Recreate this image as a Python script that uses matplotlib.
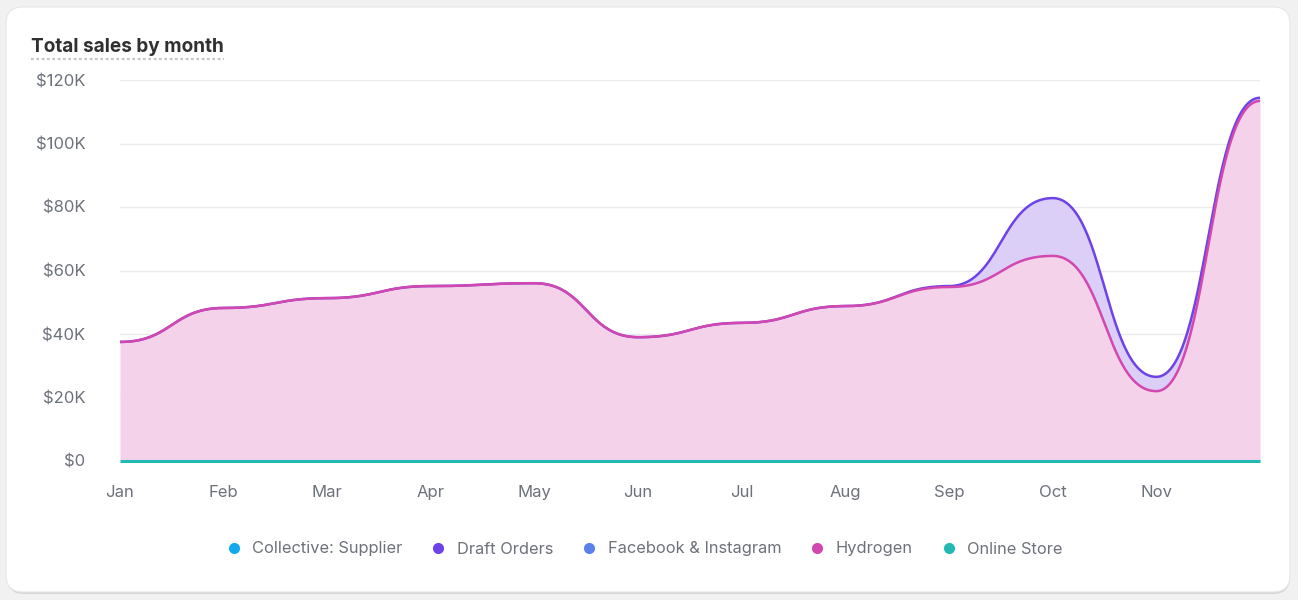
import numpy as np
import matplotlib
matplotlib.use("Agg")
import matplotlib.pyplot as plt
from matplotlib.patches import FancyBboxPatch
from matplotlib.lines import Line2D

plt.rcParams["font.family"] = ["Inter", "DejaVu Sans"]

months = ["Jan", "Feb", "Mar", "Apr", "May", "Jun", "Jul", "Aug", "Sep", "Oct", "Nov", ""]
collective = [0, 0, 0, 0, 0, 0, 0, 0, 0, 0, 0, 0]
facebook = [0, 0, 0, 0, 0, 0, 0, 0, 0, 0, 0, 0]
online_store = [0, 0, 0, 0, 0, 0, 0, 0, 0, 0, 0, 0]
hydrogen = [37.5, 48.2, 51.3, 55.1, 56.0, 39.0, 43.5, 48.8, 54.8, 64.6, 22.0, 113.4]
draft_orders = [0, 0, 0, 0, 0, 0, 0, 0, 0.3, 18.2, 4.5, 1.0]

series_names = ["Collective: Supplier", "Draft Orders", "Facebook & Instagram", "Hydrogen", "Online Store"]
series_colors = ["#14a8ef", "#6d42e6", "#5b80ea", "#d247b0", "#22b9b5"]


def bump_x(x, y, n=60):
    # cubic bezier per segment with flat tangents at each point (d3.curveBumpX)
    x = np.asarray(x, float)
    y = np.asarray(y, float)
    t = np.linspace(0, 1, n)
    a, b, c, d = (1 - t) ** 3, 3 * (1 - t) ** 2 * t, 3 * (1 - t) * t ** 2, t ** 3
    xs, ys = [], []
    for i in range(len(x) - 1):
        xm = (x[i] + x[i + 1]) / 2
        xs.append(a * x[i] + (b + c) * xm + d * x[i + 1])
        ys.append((a + b) * y[i] + (c + d) * y[i + 1])
    return np.concatenate(xs), np.concatenate(ys)


W, H = 1298, 600
fig = plt.figure(figsize=(W / 100, H / 100), dpi=100)
fig.patch.set_facecolor("#f1f1f1")

# card with soft shadow, kept behind the axes
shadow = FancyBboxPatch((7 / W, 6 / H), 1283 / W, 584 / H,
                        boxstyle="round,pad=0,rounding_size=0.013",
                        transform=fig.transFigure, facecolor="#d6d6d6", edgecolor="none",
                        mutation_aspect=W / H, zorder=-3)
card = FancyBboxPatch((6 / W, 8 / H), 1284 / W, 585 / H,
                      boxstyle="round,pad=0,rounding_size=0.013",
                      transform=fig.transFigure, facecolor="white", edgecolor="#e6e6e6",
                      linewidth=0.8, mutation_aspect=W / H, zorder=-2)
fig.add_artist(shadow)
fig.add_artist(card)

ax = fig.add_axes([120 / W, (H - 461) / H, 1140 / W, 381 / H])
ax.set_facecolor("none")

x = np.arange(len(months))
base = np.array(collective) + np.array(facebook) + np.array(online_store)
hyd_top = base + np.array(hydrogen)
draft_top = hyd_top + np.array(draft_orders)

sx, s_base = bump_x(x, base)
_, s_hyd = bump_x(x, hyd_top)
_, s_draft = bump_x(x, draft_top)

ax.fill_between(sx, s_hyd, s_draft, color="#dccff7", linewidth=0, zorder=2)
ax.fill_between(sx, s_base, s_hyd, color="#f4d2ea", linewidth=0, zorder=2)
ax.plot(sx, s_draft, color=series_colors[1], lw=1.8, zorder=4, solid_capstyle="round")
ax.plot(sx, s_hyd, color=series_colors[3], lw=1.8, zorder=5, solid_capstyle="round")
ax.plot(sx, s_base, color=series_colors[4], lw=2.2, zorder=6, solid_capstyle="butt", clip_on=False)

ax.set_xlim(0, len(months) - 1)
ax.set_ylim(0, 120)
ax.set_yticks(np.arange(0, 121, 20))
ax.set_yticklabels(["$0" if v == 0 else f"${v}K" for v in range(0, 121, 20)])
ax.set_xticks(x)
ax.set_xticklabels(months)
ax.grid(axis="y", color="#ebebeb", lw=1, zorder=1)
ax.set_axisbelow(True)
for s in ax.spines.values():
    s.set_visible(False)
ax.tick_params(length=0, colors="#6d717a", labelsize=12)
ax.tick_params(axis="y", pad=25)
ax.tick_params(axis="x", pad=17)

title = fig.text(31 / W, 1 - 47 / H, "Total sales by month", fontsize=13.7, fontweight="bold",
                 color="#303030", va="center", ha="left")

handles = [Line2D([], [], marker="o", ls="none", markersize=8, color=c, markeredgewidth=0)
           for c in series_colors]
fig.legend(handles, series_names, loc="center", bbox_to_anchor=(644 / W, 1 - 549 / H),
           ncol=5, frameon=False, fontsize=11.8, labelcolor="#6d717a",
           handletextpad=0.62, columnspacing=1.7, handlelength=1.0)

fig.canvas.draw()
bb = title.get_window_extent()
fig.add_artist(Line2D([bb.x0 / W, bb.x1 / W], [(H - 59) / H] * 2, transform=fig.transFigure,
                      color="#c4c4c4", lw=1.6, ls=(0, (1.2, 1.2))))

fig.savefig("out.png", dpi=100, facecolor=fig.get_facecolor())
